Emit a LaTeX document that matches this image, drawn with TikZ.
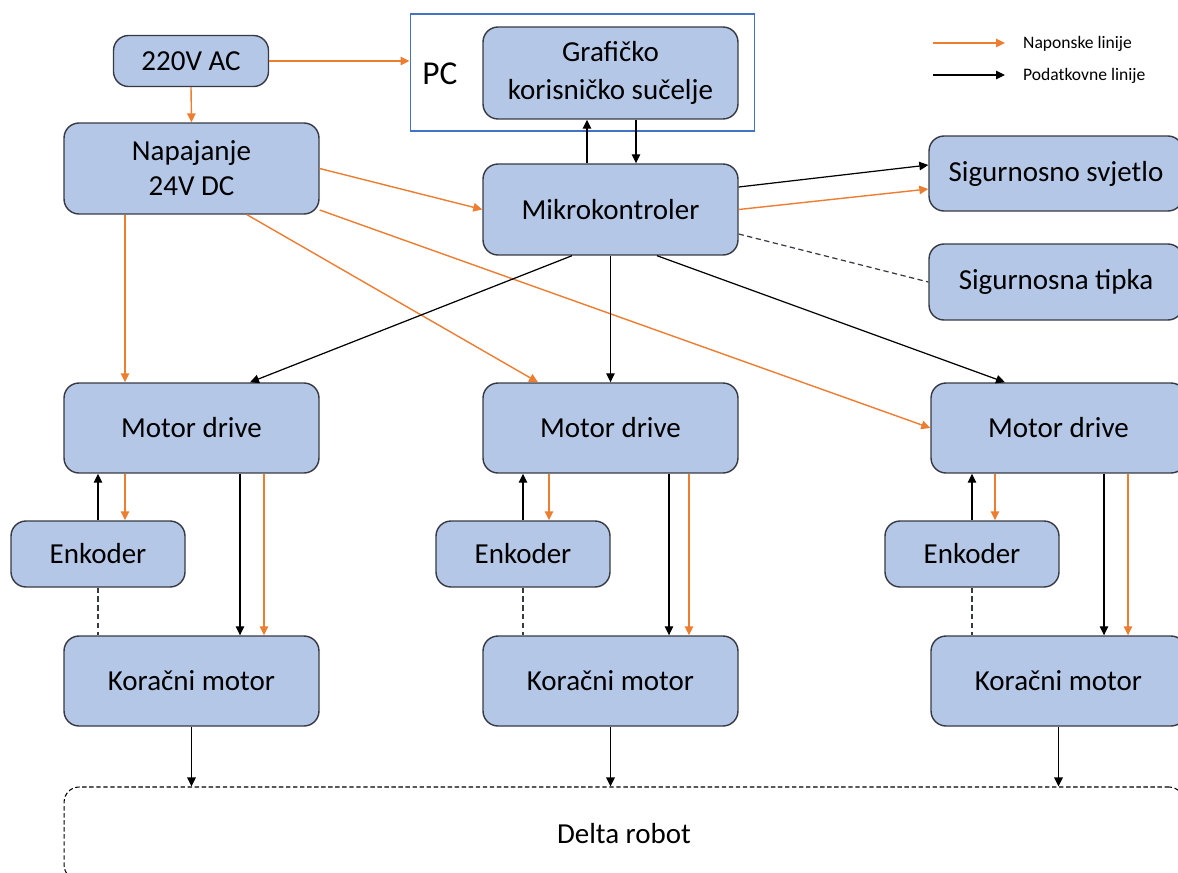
\documentclass[tikz,border=0pt]{standalone}
\usepackage{fontspec}
\setmainfont{Carlito}
\usepackage{tikz}
\usetikzlibrary{arrows,arrows.meta,shapes,calc,positioning}
\definecolor{plavaKutija}{RGB}{180,199,231}
\definecolor{rubKutije}{RGB}{55,58,66}
\definecolor{narancasta}{RGB}{237,125,49}
\definecolor{plavaPC}{RGB}{68,114,196}
\tikzstyle{blok}  =[rectangle, rounded corners=0.3cm, draw=rubKutije,
                    fill=plavaKutija, line width=0.8pt, align=center,
                    font=\fontsize{16.5}{20}\selectfont, inner sep=2pt]
\tikzstyle{napon} =[->, >={Triangle[length=1.8mm,width=1.7mm]},
                    narancasta, line width=0.8pt]
\tikzstyle{podaci}=[->, >={Triangle[length=1.8mm,width=1.7mm]},
                    black, line width=0.7pt]
\tikzstyle{isprek}=[dash pattern=on 3pt off 2pt, rubKutije, line width=0.7pt]

\begin{document}
\begin{tikzpicture}[x=0.02cm, y=-0.02cm]
    \useasboundingbox (0,0) rectangle (1178,873);
    \clip (0,0) rectangle (1178,873);

    % izvori i PC
    \draw (191,61) node (ac) [blok, minimum width=3.1cm, minimum height=1.02cm] {220V AC};
    \draw (191.5,168.5) node (napajanje) [blok, minimum width=5.1cm, minimum height=1.82cm] {Napajanje\\24V DC};
    \draw (582.5,72.5) node (pc) [rectangle, draw=plavaPC, line width=0.6pt, minimum width=6.9cm, minimum height=2.34cm] {};
    \draw (440,74) node (pcnapis) [font=\fontsize{19}{22}\selectfont] {PC};
    \draw (610.5,73) node (gui) [blok, minimum width=5.1cm, minimum height=1.84cm,
        font=\fontsize{16.5}{21.6}\selectfont] {Grafičko\\korisničko sučelje};
    \draw (610.5,209.5) node (mcu) [blok, minimum width=5.1cm, minimum height=1.82cm] {Mikrokontroler};
    \draw (1056,173.5) node (svjetlo) [blok, minimum width=5.08cm, minimum height=1.5cm] {Sigurnosno svjetlo};
    \draw (1056,282) node (tipka) [blok, minimum width=5.08cm, minimum height=1.52cm] {Sigurnosna tipka};

    % tri osi
    \draw (191.5,428) node (md1) [blok, minimum width=5.1cm, minimum height=1.8cm] {Motor drive};
    \draw (610.5,428) node (md2) [blok, minimum width=5.1cm, minimum height=1.8cm] {Motor drive};
    \draw (1058.5,428) node (md3) [blok, minimum width=5.1cm, minimum height=1.8cm] {Motor drive};
    \draw (98,554) node (enk1) [blok, minimum width=3.48cm, minimum height=1.32cm] {Enkoder};
    \draw (523,554) node (enk2) [blok, minimum width=3.48cm, minimum height=1.32cm] {Enkoder};
    \draw (972,554) node (enk3) [blok, minimum width=3.48cm, minimum height=1.32cm] {Enkoder};
    \draw (191.5,681) node (km1) [blok, minimum width=5.1cm, minimum height=1.8cm] {Koračni motor};
    \draw (610.5,681) node (km2) [blok, minimum width=5.1cm, minimum height=1.8cm] {Koračni motor};
    \draw (1058.5,681) node (km3) [blok, minimum width=5.1cm, minimum height=1.8cm] {Koračni motor};
    \draw (624,833.5) node (delta) [rectangle, rounded corners=0.3cm, draw, dash pattern=on 2.5pt off 1.5pt,
        line width=0.6pt, minimum width=22.4cm, minimum height=1.86cm,
        font=\fontsize{16.5}{20}\selectfont] {Delta robot};

    % legenda
    \coordinate (lg1a) at (933,43);
    \coordinate (lg1b) at (1005,43);
    \coordinate (lg2a) at (933,75);
    \coordinate (lg2b) at (1005,75);
    \draw [napon] (lg1a) -- (lg1b);
    \draw [podaci] (lg2a) -- (lg2b);
    \draw (1017,44) node (lgnapon) [anchor=west, font=\fontsize{10}{12}\selectfont] {Naponske linije};
    \draw (1017,76) node (lgpodaci) [anchor=west, font=\fontsize{10}{12}\selectfont] {Podatkovne linije};

    % napajanje
    \draw [napon] (ac.east) -- (ac.east -| pc.west);
    \draw [napon] (ac.south) -- (napajanje.north);
    \draw [napon] (napajanje.east) -- (mcu.west);
    \draw [napon] ($(napajanje.south)+(-66.5,0)$) -- ($(md1.north)+(-66.5,0)$);
    \draw [napon] ($(napajanje.south)+(55.5,0)$) -- ($(md2.north)+(-72.5,0)$);
    \draw [napon] ($(napajanje.east)+(0,41.5)$) -- (md3.west);
    \draw [napon] (mcu.east) -- ($(svjetlo.west)+(0,15.5)$);

    % podaci
    \draw [podaci] ($(mcu.north)+(-23.5,0)$) -- ($(gui.south)+(-23.5,0)$);
    \draw [podaci] ($(gui.south)+(25.5,0)$) -- ($(mcu.north)+(25.5,0)$);
    \draw [podaci] ($(mcu.east)+(0,-22.5)$) -- ($(svjetlo.west)+(0,-8.5)$);
    \draw [isprek] ($(mcu.east)+(0,24.5)$) -- (tipka.west);
    \draw [podaci] ($(mcu.south)+(-38.5,0)$) -- ($(md1.north)+(58.5,0)$);
    \draw [podaci] (mcu.south) -- (md2.north);
    \draw [podaci] ($(mcu.south)+(46.5,0)$) -- ($(md3.north)+(-53.5,0)$);

    \foreach \i/\a/\b/\c in {1/27/48.5/72.5, 2/26/58.5/78.5, 3/23/45.5/69.5} {
        \draw [podaci] (enk\i.north) -- (enk\i.north |- md\i.south);
        \draw [napon] ($(enk\i.north |- md\i.south)+(\a,0)$) -- ($(enk\i.north)+(\a,0)$);
        \draw [podaci] ($(md\i.south)+(\b,0)$) -- ($(km\i.north)+(\b,0)$);
        \draw [napon] ($(md\i.south)+(\c,0)$) -- ($(km\i.north)+(\c,0)$);
        \draw [isprek] (enk\i.south) -- (enk\i.south |- km\i.north);
        \draw [podaci] (km\i.south) -- (km\i.south |- delta.north);
    }

\end{tikzpicture}
\end{document}
